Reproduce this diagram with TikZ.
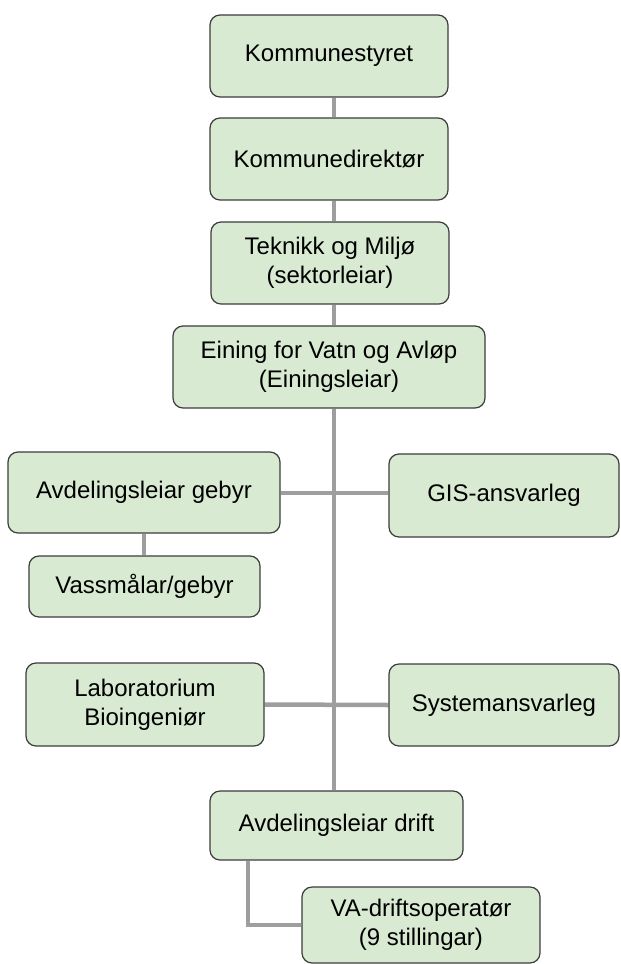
\documentclass[tikz,border=0pt]{standalone}
\usepackage{fontspec}
\setmainfont{Liberation Sans}
\usetikzlibrary{backgrounds}
\definecolor{boxfill}{HTML}{D9EAD3}
\definecolor{boxdraw}{HTML}{3C3C3C}
\definecolor{linkgray}{HTML}{9E9E9E}
\begin{document}
\begin{tikzpicture}[x=1pt,y=-1pt,
  orgbox/.style={draw=boxdraw, fill=boxfill, line width=1.2pt, rounded corners=10pt,
    align=center, inner sep=0pt, font=\fontsize{24}{29}\selectfont, text=black},
  link/.style={draw=linkgray, line width=4.5pt}]
\useasboundingbox (0,0) rectangle (621,964);
\coordinate (T) at (334,0);
\node[orgbox, minimum width=238, minimum height=82] (ks) at (329,56) {Kommunestyret};
\node[orgbox, minimum width=238, minimum height=82] (kd) at (329,159) {Kommunedirektør};
\node[orgbox, minimum width=238, minimum height=82] (tm) at (330,263) {Teknikk og Miljø\\(sektorleiar)};
\node[orgbox, minimum width=312, minimum height=82] (ev) at (329,367) {Eining for Vatn og Avløp\\(Einingsleiar)};
\node[orgbox, minimum width=272, minimum height=81] (ag) at (144,492.5) {Avdelingsleiar gebyr};
\node[orgbox, minimum width=230, minimum height=83] (gis) at (504,495.5) {GIS-ansvarleg};
\node[orgbox, minimum width=231, minimum height=61] (vm) at (144.5,586.5) {Vassmålar/gebyr};
\node[orgbox, minimum width=238, minimum height=83] (lab) at (145,704.5) {Laboratorium\\Bioingeniør};
\node[orgbox, minimum width=230, minimum height=82] (sys) at (504,705) {Systemansvarleg};
\node[orgbox, minimum width=253, minimum height=69] (ad) at (336.5,825.5) {Avdelingsleiar drift};
\node[orgbox, minimum width=238, minimum height=76] (va) at (421,925) {VA-driftsoperatør\\(9 stillingar)};
\coordinate (G) at (144,0);
\coordinate (D) at (248,0);
\begin{scope}[on background layer]
\draw[link] (ks.south -| T) -- (kd.north -| T);
\draw[link] (kd.south -| T) -- (tm.north -| T);
\draw[link] (tm.south -| T) -- (ev.north -| T);
\draw[link] (ev.south -| T) -- (ad.north -| T);
\draw[link] (ag.east |- 0,493) -- (gis.west |- 0,493);
\draw[link] (lab.east) -- (sys.west);
\draw[link] (ag.south -| G) -- (vm.north -| G);
\draw[link] (ad.south -| D) |- (va.west);
\end{scope}
\end{tikzpicture}
\end{document}
